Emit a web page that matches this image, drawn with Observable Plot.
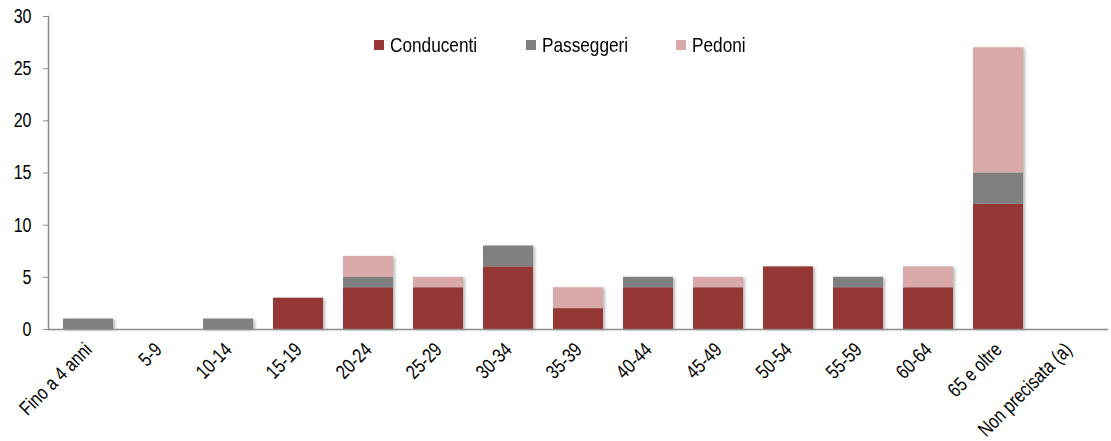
<!DOCTYPE html>
<html><head><meta charset="utf-8">
<script src="https://cdn.jsdelivr.net/npm/d3@7"></script>
<script src="https://cdn.jsdelivr.net/npm/@observablehq/plot@0.6"></script>
<style>
body{margin:0;background:#fff;}
#wrap{position:relative;width:1111px;height:441px;overflow:hidden;}
.legend{position:absolute;top:30px;left:0;width:1111px;height:30px;font-family:"Liberation Sans",Arial,sans-serif;font-size:21px;color:#000;}
.legend .item{position:absolute;top:0;display:flex;align-items:center;height:30px;white-space:nowrap;}
.legend .sw{display:inline-block;width:10px;height:10px;margin-right:6px;}
.legend .lab{display:inline-block;transform:scaleX(0.82);transform-origin:left center;}
</style>
</head><body>
<div id="wrap"></div>
<script>
const categories = ["Fino a 4 anni","5-9","10-14","15-19","20-24","25-29","30-34","35-39","40-44","45-49","50-54","55-59","60-64","65 e oltre","Non precisata (a)"];
const conducenti = [0,0,0,3,4,4,6,2,4,4,6,4,4,12,0];
const passeggeri = [1,0,1,0,1,0,2,0,1,0,0,1,0,3,0];
const pedoni     = [0,0,0,0,2,1,0,2,0,1,0,0,2,12,0];
const seriesNames = ["Conducenti","Passeggeri","Pedoni"];
const seriesColors = ["#953735","#808080","#D9A8A9"];
const yTicks = [0,5,10,15,20,25,30];

const seriesValues = [conducenti, passeggeri, pedoni];
const data = categories.flatMap((c,i) => seriesNames.map((s,k) => ({cat:c, serie:s, v:seriesValues[k][i]})));

const font = '"Liberation Sans",Arial,sans-serif';
const chart = Plot.plot({
  width:1111, height:441,
  marginLeft:48, marginRight:3, marginTop:16, marginBottom:112,
  style:{fontFamily:font, fontSize:"20px", color:"#000", background:"#fff", overflow:"visible"},
  x:{domain:categories, paddingInner:0.29, paddingOuter:0.145, label:null},
  y:{domain:[0,30], label:null},
  color:{domain:seriesNames, range:seriesColors},
  marks:[
    Plot.barY(data, {x:"cat", y:"v", fill:"serie", order:seriesNames}),
    Plot.axisY({ticks:yTicks, tickSize:5, tickPadding:12, stroke:"#8c8c8c", fill:"#000", label:null}),
    Plot.frame({anchor:"left", stroke:"#8c8c8c", strokeWidth:1.5}),
    Plot.ruleY([0], {stroke:"#8c8c8c", strokeWidth:1.5}),
    Plot.axisX({tickRotate:-45, tickSize:0, tickPadding:17, fill:"#000", label:null})
  ]
});
document.getElementById("wrap").appendChild(chart);
d3.select(chart).selectAll("g[aria-label='bar']").style("filter","drop-shadow(2px 1px 1.5px rgba(0,0,0,0.28))");

// condense axis text horizontally (along its baseline), keeping its anchor in place
const SX = 0.8;
const isNum = v => v != null && /^-?[\d.]+(px)?$/.test(String(v).trim());
d3.select(chart).selectAll("g[aria-label='y-axis tick label'] text, g[aria-label='x-axis tick label'] text").each(function() {
  const el = d3.select(this);
  let tx = 0, ty = 0;
  const xa = el.attr("x"), ya = el.attr("y"), dxa = el.attr("dx");
  if (isNum(xa)) { tx = parseFloat(xa); el.attr("x", null); }
  if (isNum(ya)) { ty = parseFloat(ya); el.attr("y", null); }
  if (isNum(dxa)) { el.attr("dx", parseFloat(dxa) / SX); }
  const t = el.attr("transform") || "";
  el.attr("transform", `${t} translate(${tx},${ty}) scale(${SX},1)`);
});

const legend = document.createElement("div");
legend.className = "legend";
const lefts = [374, 526, 676];
seriesNames.forEach((s,k) => {
  const it = document.createElement("div");
  it.className = "item";
  it.style.left = lefts[k] + "px";
  it.innerHTML = `<span class="sw" style="background:${seriesColors[k]}"></span><span class="lab">${s}</span>`;
  legend.appendChild(it);
});
document.getElementById("wrap").appendChild(legend);
</script>
</body></html>
